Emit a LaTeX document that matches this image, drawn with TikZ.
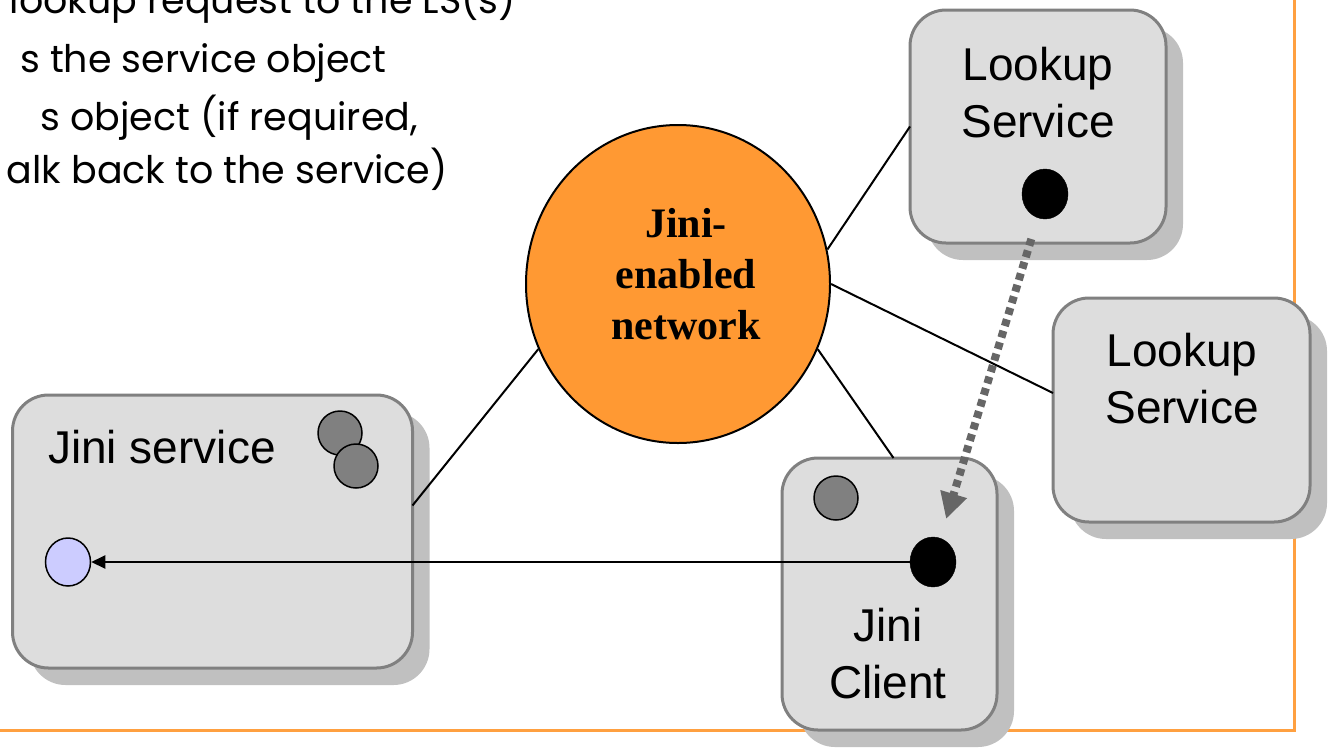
\documentclass[tikz,border=0pt]{standalone}
\usepackage{fontspec}
\usetikzlibrary{shapes.geometric,shadows,arrows.meta,calc}
\newfontfamily\arialfont{Liberation Sans}
\newfontfamily\timesfont{Liberation Serif}
\newfontfamily\comicfont{Poppins}
\definecolor{boxfill}{HTML}{DDDDDD}
\definecolor{boxborder}{HTML}{808080}
\definecolor{shadowgray}{HTML}{C0C0C0}
\definecolor{netorange}{HTML}{FF9933}
\definecolor{frameorange}{HTML}{FFA040}
\definecolor{dotgray}{HTML}{666666}
\definecolor{objgray}{HTML}{808080}
\definecolor{proxyblue}{HTML}{CCCCFF}
\tikzset{
  box/.style={draw=boxborder, line width=3pt, fill=boxfill, rounded corners=36pt,
    inner sep=0pt, outer sep=0pt,
    drop shadow={shadow xshift=17pt, shadow yshift=-17pt, fill=shadowgray, opacity=1}},
  boxlabel/.style={font=\arialfont\fontsize{46}{57}\selectfont, align=center, inner sep=0pt},
  netlabel/.style={font=\timesfont\bfseries\fontsize{42}{51}\selectfont, align=center, inner sep=0pt},
  bullettext/.style={font=\comicfont\fontsize{38}{46}\selectfont, inner sep=0pt, anchor=base east},
  dot/.style={circle, draw=black, line width=1.5pt, inner sep=0pt, minimum size=44pt},
  blackdot/.style={ellipse, fill=black, draw=black, inner sep=0pt, minimum width=46pt, minimum height=50pt},
  link/.style={draw=black, line width=2pt},
  frame/.style={draw=frameorange, line width=3pt},
}
\begin{document}
\begin{tikzpicture}[x=1pt,y=-1pt]
\useasboundingbox (0,0) rectangle (1329,747);
% orange frame
\coordinate (ftop) at (1294,-5);
\coordinate (fcorner) at (1294,730);
\coordinate (fleft) at (-5,730);
\draw[frame] (ftop) -- (fcorner) -- (fleft);
% text lines (cut at left edge)
\node[bullettext] (t1) at (516,13) {he lookup request to the LS(s)};
\node[bullettext] (t2) at (387,72) {s the service object};
\node[bullettext] (t3) at (418,130) {s object (if required,};
\node[bullettext] (t4) at (448,183) {alk back to the service)};
% network
\node[ellipse, draw=black, line width=2pt, fill=netorange, minimum width=304pt, minimum height=318pt] (net) at (678,284) {};
\node[netlabel] (nettext) at (686,274) {Jini-\\enabled\\network};
% boxes
\node[box, minimum width=256pt, minimum height=233pt] (ls1) at (1038,126.5) {};
\node[box, minimum width=257pt, minimum height=224pt] (ls2) at (1181.5,410) {};
\node[box, minimum width=400pt, minimum height=273pt] (svc) at (212.5,531.5) {};
\node[box, minimum width=215pt, minimum height=272pt] (cli) at (889.5,594) {};
% links
\draw[link] (net.13) -- (ls1.west);
\draw[link] (net.east) -- ([yshift=17pt]ls2.west);
\draw[link] (net.205) -- ([yshift=26pt]svc.east);
\draw[link] (net.335) -- ([xshift=4pt]cli.north);
% labels
\node[boxlabel, anchor=base] (ls1text) at (1038,137) {Lookup\\Service};
\node[boxlabel, anchor=base] (ls2text) at (1182,423) {Lookup\\Service};
\node[boxlabel, anchor=base west] (svctext) at (48,463) {Jini service};
\node[boxlabel, anchor=base] (clitext) at (888,698) {Jini\\Client};
% objects
\node[dot, fill=objgray] (sobj1) at (340,433) {};
\node[dot, fill=objgray] (sobj2) at (356,466) {};
\node[dot, fill=objgray] (cobj) at (836,498) {};
\node[blackdot] (ls1dot) at (1045,194) {};
\node[blackdot] (cdot) at (933,562) {};
\node[ellipse, draw=black, line width=1.5pt, fill=proxyblue, inner sep=0pt, minimum width=45pt, minimum height=48pt] (bdot) at (68,562) {};
% arrows
\draw[line width=2pt, -{Triangle[length=14pt,width=13pt]}] (cdot) -- (bdot);
\draw[draw=dotgray, line width=8pt, dash pattern=on 7pt off 5pt, shorten <=22pt, shorten >=20pt,
  -{Triangle[length=26pt,width=26pt,fill=dotgray]}] (ls1dot) -- (cdot);
\end{tikzpicture}
\end{document}
